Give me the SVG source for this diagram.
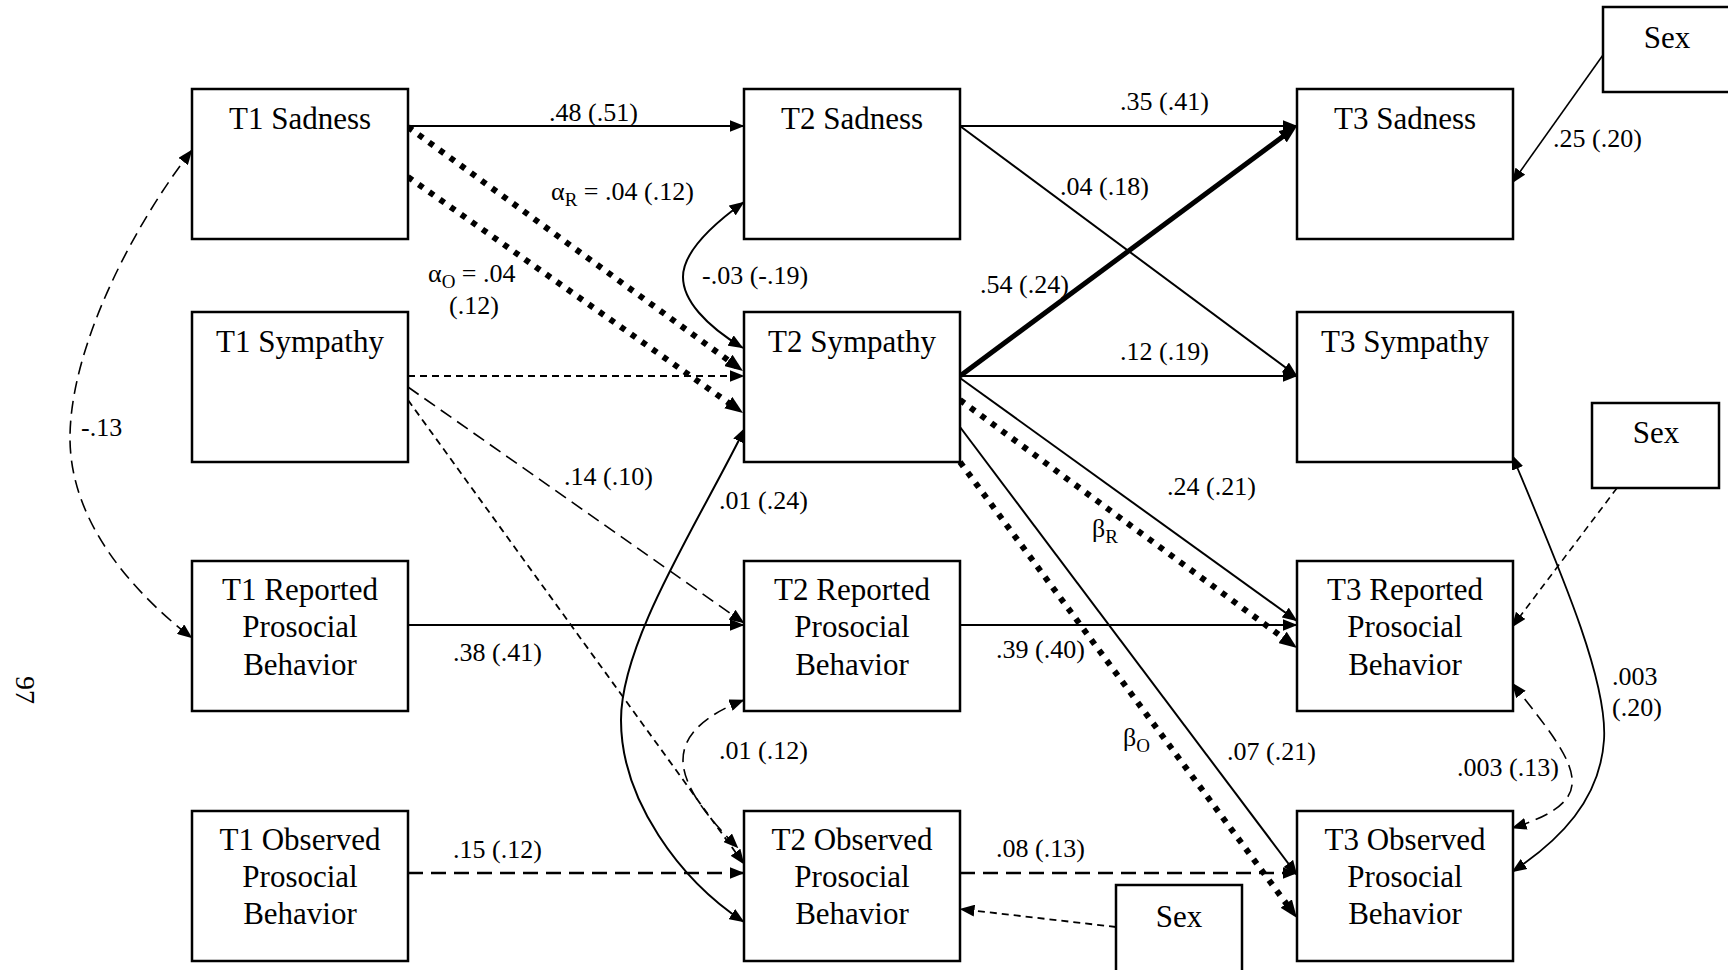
<svg xmlns="http://www.w3.org/2000/svg" width="1728" height="970" viewBox="0 0 1728 970">
<style>
.box{fill:#fff;stroke:#000;stroke-width:2.5}
.nt{font-family:"Liberation Serif","Times New Roman",serif;font-size:31px;fill:#000;text-anchor:middle}
.lb{font-family:"Liberation Serif","Times New Roman",serif;font-size:26px;fill:#000}
.c{fill:none;stroke:#000}
.s{stroke-width:2;marker-end:url(#ar)}
.thick{stroke-width:5;marker-end:url(#ab)}
.dot{stroke-width:6;stroke-dasharray:5.5 7.5;marker-end:url(#ab)}
.sd{stroke-width:1.8;stroke-dasharray:7 5;marker-end:url(#ar)}
.ld{stroke-width:1.6;stroke-dasharray:13 7;marker-end:url(#ar)}
.hd{stroke-width:2.6;stroke-dasharray:15 8;marker-end:url(#ar)}
.bi{marker-start:url(#ar)}
</style>
<defs>
<marker id="ar" viewBox="0 0 15 12" refX="14.5" refY="6" markerWidth="15" markerHeight="12" markerUnits="userSpaceOnUse" orient="auto-start-reverse"><path d="M0,0 L15,6 L0,12 z" fill="#000"/></marker>
<marker id="ab" viewBox="0 0 18 14" refX="10" refY="7" markerWidth="18" markerHeight="14" markerUnits="userSpaceOnUse" orient="auto"><path d="M0,0 L18,7 L0,14 z" fill="#000"/></marker>
</defs>
<rect width="1728" height="970" fill="#fff"/>
<text class="lb" text-anchor="middle" transform="translate(25,690) rotate(90)" x="0" y="9" style="font-size:28px">97</text>
<g id="connectors">
<line class="c s" x1="408" y1="126" x2="744" y2="126"/>
<line class="c dot" x1="408" y1="127" x2="736.5" y2="366.3"/>
<line class="c dot" x1="408" y1="177" x2="736.5" y2="408.4"/>
<path class="c s bi" d="M744,202 C705,230 683,255 683,277 C683,300 705,325 743,348"/>
<line class="c sd" x1="408" y1="376" x2="744" y2="376"/>
<line class="c ld" x1="408" y1="387" x2="744" y2="623"/>
<line class="c sd" x1="408" y1="400" x2="744" y2="864"/>
<path class="c s bi" d="M745,428 C700,520 621,640 621,720 C621,800 680,880 744,922"/>
<line class="c s" x1="408" y1="625" x2="744" y2="625"/>
<path class="c ld bi" d="M744,700 C705,715 683,735 683,760 C683,790 715,825 738,848"/>
<line class="c hd" x1="408" y1="873" x2="744" y2="873"/>
<path class="c ld bi" d="M192,150 C130,230 70,350 70,438 C70,520 130,590 192,638"/>
<line class="c s" x1="960" y1="126" x2="1297" y2="126"/>
<line class="c s" x1="960" y1="126" x2="1297" y2="376"/>
<line class="c thick" x1="960" y1="376" x2="1290.6" y2="130.8"/>
<line class="c s" x1="960" y1="376" x2="1297" y2="376"/>
<line class="c s" x1="960" y1="378" x2="1297" y2="621"/>
<line class="c dot" x1="960" y1="400" x2="1290.6" y2="643.3"/>
<line class="c s" x1="960" y1="427" x2="1297" y2="875"/>
<line class="c dot" x1="960" y1="462" x2="1292.2" y2="911.6"/>
<line class="c s" x1="960" y1="625" x2="1297" y2="625"/>
<line class="c hd" x1="960" y1="873" x2="1297" y2="873"/>
<line class="c sd" x1="1116" y1="927" x2="960" y2="909"/>
<line class="c s" style="stroke-width:1.6" x1="1603" y1="55" x2="1512" y2="183"/>
<line class="c sd" style="stroke-width:1.6" x1="1617" y1="488" x2="1512" y2="627"/>
<path class="c s bi" style="stroke-width:1.8" d="M1512,455 C1560,570 1608,680 1604,740 C1600,800 1560,840 1512,872"/>
<path class="c ld bi" d="M1512,683 C1545,725 1575,760 1572,785 C1570,805 1545,818 1512,828"/>
<text class="lb" x="549" y="121">.48 (.51)</text>
<text class="lb" x="551" y="200">α<tspan font-size="19" dy="6">R</tspan><tspan dy="-6"> = .04 (.12)</tspan></text>
<text class="lb" x="428" y="282">α<tspan font-size="19" dy="6">O</tspan><tspan dy="-6"> = .04</tspan></text>
<text class="lb" x="449" y="314">(.12)</text>
<text class="lb" x="702" y="284">-.03 (-.19)</text>
<text class="lb" x="81" y="436">-.13</text>
<text class="lb" x="564" y="485">.14 (.10)</text>
<text class="lb" x="719" y="509">.01 (.24)</text>
<text class="lb" x="453" y="661">.38 (.41)</text>
<text class="lb" x="719" y="759">.01 (.12)</text>
<text class="lb" x="453" y="858">.15 (.12)</text>
<text class="lb" x="1120" y="110">.35 (.41)</text>
<text class="lb" x="1060" y="195">.04 (.18)</text>
<text class="lb" x="980" y="293">.54 (.24)</text>
<text class="lb" x="1120" y="360">.12 (.19)</text>
<text class="lb" x="1553" y="147">.25 (.20)</text>
<text class="lb" x="1167" y="495">.24 (.21)</text>
<text class="lb" x="1092" y="537">β<tspan font-size="19" dy="6">R</tspan></text>
<text class="lb" x="1123" y="746">β<tspan font-size="19" dy="6">O</tspan></text>
<text class="lb" x="996" y="658">.39 (.40)</text>
<text class="lb" x="1227" y="760">.07 (.21)</text>
<text class="lb" x="996" y="857">.08 (.13)</text>
<text class="lb" x="1457" y="776">.003 (.13)</text>
<text class="lb" x="1612" y="685">.003</text>
<text class="lb" x="1612" y="716">(.20)</text>
</g>
<g id="t1_sadness"><rect class="box" x="192" y="89" width="216" height="150"/><text class="nt" x="300" y="129">T1 Sadness</text></g>
<g id="t2_sadness"><rect class="box" x="744" y="89" width="216" height="150"/><text class="nt" x="852" y="129">T2 Sadness</text></g>
<g id="t3_sadness"><rect class="box" x="1297" y="89" width="216" height="150"/><text class="nt" x="1405" y="129">T3 Sadness</text></g>
<g id="t1_sympathy"><rect class="box" x="192" y="312" width="216" height="150"/><text class="nt" x="300" y="352">T1 Sympathy</text></g>
<g id="t2_sympathy"><rect class="box" x="744" y="312" width="216" height="150"/><text class="nt" x="852" y="352">T2 Sympathy</text></g>
<g id="t3_sympathy"><rect class="box" x="1297" y="312" width="216" height="150"/><text class="nt" x="1405" y="352">T3 Sympathy</text></g>
<g id="t1_reported"><rect class="box" x="192" y="561" width="216" height="150"/><text class="nt" x="300" y="600">T1 Reported</text><text class="nt" x="300" y="637">Prosocial</text><text class="nt" x="300" y="675">Behavior</text></g>
<g id="t2_reported"><rect class="box" x="744" y="561" width="216" height="150"/><text class="nt" x="852" y="600">T2 Reported</text><text class="nt" x="852" y="637">Prosocial</text><text class="nt" x="852" y="675">Behavior</text></g>
<g id="t3_reported"><rect class="box" x="1297" y="561" width="216" height="150"/><text class="nt" x="1405" y="600">T3 Reported</text><text class="nt" x="1405" y="637">Prosocial</text><text class="nt" x="1405" y="675">Behavior</text></g>
<g id="t1_observed"><rect class="box" x="192" y="811" width="216" height="150"/><text class="nt" x="300" y="850">T1 Observed</text><text class="nt" x="300" y="887">Prosocial</text><text class="nt" x="300" y="924">Behavior</text></g>
<g id="t2_observed"><rect class="box" x="744" y="811" width="216" height="150"/><text class="nt" x="852" y="850">T2 Observed</text><text class="nt" x="852" y="887">Prosocial</text><text class="nt" x="852" y="924">Behavior</text></g>
<g id="t3_observed"><rect class="box" x="1297" y="811" width="216" height="150"/><text class="nt" x="1405" y="850">T3 Observed</text><text class="nt" x="1405" y="887">Prosocial</text><text class="nt" x="1405" y="924">Behavior</text></g>
<g id="sex_top"><rect class="box" x="1603" y="7" width="128" height="85"/><text class="nt" x="1667" y="48">Sex</text></g>
<g id="sex_mid"><rect class="box" x="1592" y="403" width="127" height="85"/><text class="nt" x="1656" y="443">Sex</text></g>
<g id="sex_bottom"><rect class="box" x="1116" y="885" width="126" height="95"/><text class="nt" x="1179" y="927">Sex</text></g>
</svg>
